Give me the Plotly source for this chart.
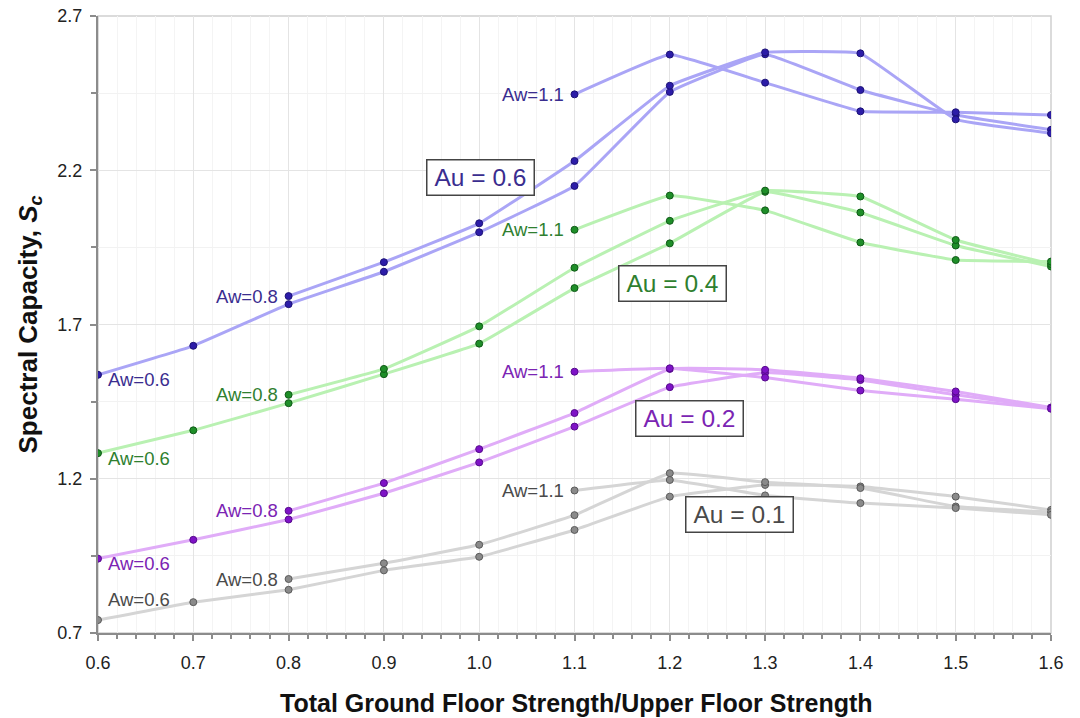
import plotly.graph_objects as go

# Strength ratio (ground floor / upper floor) for each Aw series
x_aw06 = [0.6, 0.7, 0.8, 0.9, 1.0, 1.1, 1.2, 1.3, 1.4, 1.5, 1.6]
x_aw08 = [0.8, 0.9, 1.0, 1.1, 1.2, 1.3, 1.4, 1.5, 1.6]
x_aw11 = [1.1, 1.2, 1.3, 1.4, 1.5, 1.6]

# Spectral capacity, Au = 0.6
au06_aw06 = [1.537, 1.631, 1.766, 1.871, 1.999, 2.149, 2.454, 2.576, 2.460, 2.379, 2.331]
au06_aw08 = [1.792, 1.902, 2.028, 2.230, 2.474, 2.582, 2.579, 2.365, 2.320]
au06_aw11 = [2.446, 2.575, 2.484, 2.391, 2.388, 2.379]

# Spectral capacity, Au = 0.4
au04_aw06 = [1.283, 1.357, 1.445, 1.539, 1.638, 1.818, 1.963, 2.130, 2.063, 1.956, 1.888]
au04_aw08 = [1.472, 1.556, 1.694, 1.884, 2.036, 2.134, 2.115, 1.974, 1.896]
au04_aw11 = [2.007, 2.118, 2.070, 1.966, 1.909, 1.904]

# Spectral capacity, Au = 0.2
au02_aw06 = [0.941, 1.002, 1.068, 1.153, 1.253, 1.369, 1.497, 1.544, 1.520, 1.472, 1.429]
au02_aw08 = [1.096, 1.186, 1.296, 1.413, 1.556, 1.553, 1.526, 1.483, 1.431]
au02_aw11 = [1.547, 1.558, 1.528, 1.486, 1.458, 1.427]

# Spectral capacity, Au = 0.1
au01_aw06 = [0.742, 0.800, 0.840, 0.903, 0.947, 1.034, 1.142, 1.180, 1.175, 1.142, 1.099]
au01_aw08 = [0.875, 0.926, 0.986, 1.082, 1.218, 1.189, 1.170, 1.110, 1.092]
au01_aw11 = [1.162, 1.196, 1.146, 1.121, 1.105, 1.083]

group_names = ["Au = 0.6", "Au = 0.4", "Au = 0.2", "Au = 0.1"]
aw_names = ["Aw=0.6", "Aw=0.8", "Aw=1.1"]
x_title = "<b>Total Ground Floor Strength/Upper Floor Strength</b>"
y_title = "<b>Spectral Capacity, <i>S</i><sub><i>c</i></sub></b>"

groups = [
    dict(name=group_names[0], series=[au06_aw06, au06_aw08, au06_aw11],
         line="#aaa5f6", marker="#2c1ca8", edge="#1c1276", text="#3a2d8f",
         box_pos=(1.001, 2.178)),
    dict(name=group_names[1], series=[au04_aw06, au04_aw08, au04_aw11],
         line="#b9f1b2", marker="#1e8e28", edge="#0f5a17", text="#2f7f2f",
         box_pos=(1.203, 1.832)),
    dict(name=group_names[2], series=[au02_aw06, au02_aw08, au02_aw11],
         line="#e0acf8", marker="#7e12c6", edge="#560a8c", text="#7b24b3",
         box_pos=(1.221, 1.394)),
    dict(name=group_names[3], series=[au01_aw06, au01_aw08, au01_aw11],
         line="#d5d5d5", marker="#8a8a8a", edge="#5a5a5a", text="#4a4a4a",
         box_pos=(1.273, 1.083)),
]
x_sets = [x_aw06, x_aw08, x_aw11]

FONT = "Arial, Liberation Sans, sans-serif"

fig = go.Figure()
annotations = []

for gi, g in enumerate(groups):
    for si, ys in enumerate(g["series"]):
        xs = x_sets[si]
        fig.add_trace(go.Scatter(
            x=xs, y=ys, mode="lines+markers",
            name=f"{g['name']}, {aw_names[si]}",
            line=dict(color=g["line"], width=3, shape="spline", smoothing=0.25),
            marker=dict(size=7, color=g["marker"], line=dict(color=g["edge"], width=1)),
            showlegend=False,
        ))
        # series label at the first point of each curve
        if si == 0:
            yshift = 21 if gi == 3 else -5
            annotations.append(dict(
                x=xs[0], y=ys[0], text=aw_names[si], showarrow=False,
                xanchor="left", yanchor="middle", xshift=8, yshift=yshift,
                font=dict(family=FONT, size=18.5, color=g["text"])))
        else:
            annotations.append(dict(
                x=xs[0], y=ys[0], text=aw_names[si], showarrow=False,
                xanchor="right", yanchor="middle", xshift=-9, yshift=0,
                font=dict(family=FONT, size=18.5, color=g["text"])))
    bx, by = g["box_pos"]
    annotations.append(dict(
        x=bx, y=by, text=g["name"], showarrow=False,
        xanchor="center", yanchor="middle",
        font=dict(family=FONT, size=24.5, color=g["text"]),
        bgcolor="white", bordercolor="#444444", borderwidth=1.5,
        borderpad=3, width=100, height=28))

# axis titles
annotations.append(dict(
    xref="paper", yref="paper", x=0.502, y=0, xanchor="center", yanchor="middle",
    yshift=-70, text=x_title, showarrow=False,
    font=dict(family=FONT, size=25, color="#111111")))
annotations.append(dict(
    xref="paper", yref="paper", x=0, y=0.5, xanchor="center", yanchor="middle",
    xshift=-69, textangle=-90, text=y_title, showarrow=False,
    font=dict(family=FONT, size=26, color="#111111")))

fig.update_layout(
    width=1080, height=718,
    margin=dict(l=98, r=29, t=16, b=85),
    paper_bgcolor="white", plot_bgcolor="white",
    annotations=annotations,
    shapes=[dict(type="rect", xref="paper", yref="paper", x0=0, y0=0, x1=1, y1=1,
                 line=dict(color="#cfcfcf", width=1.5), layer="below")],
    font=dict(family=FONT, color="#222222"),
)

fig.update_xaxes(
    range=[0.6, 1.6], tick0=0.6, dtick=0.1, tickformat=".1f",
    automargin=False,
    showline=True, linecolor="#8c8c8c", linewidth=2,
    ticks="outside", ticklen=6, tickcolor="#8c8c8c", tickwidth=1.5,
    showgrid=True, gridcolor="#e4e4e4", gridwidth=1,
    zeroline=False,
    minor=dict(dtick=0.02, tick0=0.6, ticks="outside", ticklen=4, tickcolor="#8c8c8c",
               showgrid=True, gridcolor="#f4f4f4", gridwidth=1),
    tickfont=dict(family=FONT, size=18, color="#222222"),
    ticklabelstandoff=6,
)

fig.update_yaxes(
    range=[0.7, 2.7], tick0=0.7, dtick=0.5, tickformat=".1f",
    automargin=False,
    showline=True, linecolor="#8c8c8c", linewidth=2,
    ticks="outside", ticklen=6, tickcolor="#8c8c8c", tickwidth=1.5,
    showgrid=True, gridcolor="#e4e4e4", gridwidth=1,
    zeroline=False,
    minor=dict(dtick=0.25, tick0=0.7, ticks="outside", ticklen=5, tickcolor="#8c8c8c",
               showgrid=True, gridcolor="#f2f2f2", gridwidth=1),
    tickfont=dict(family=FONT, size=18, color="#222222"),
    ticklabelstandoff=4,
)

fig.write_html("out.html")
